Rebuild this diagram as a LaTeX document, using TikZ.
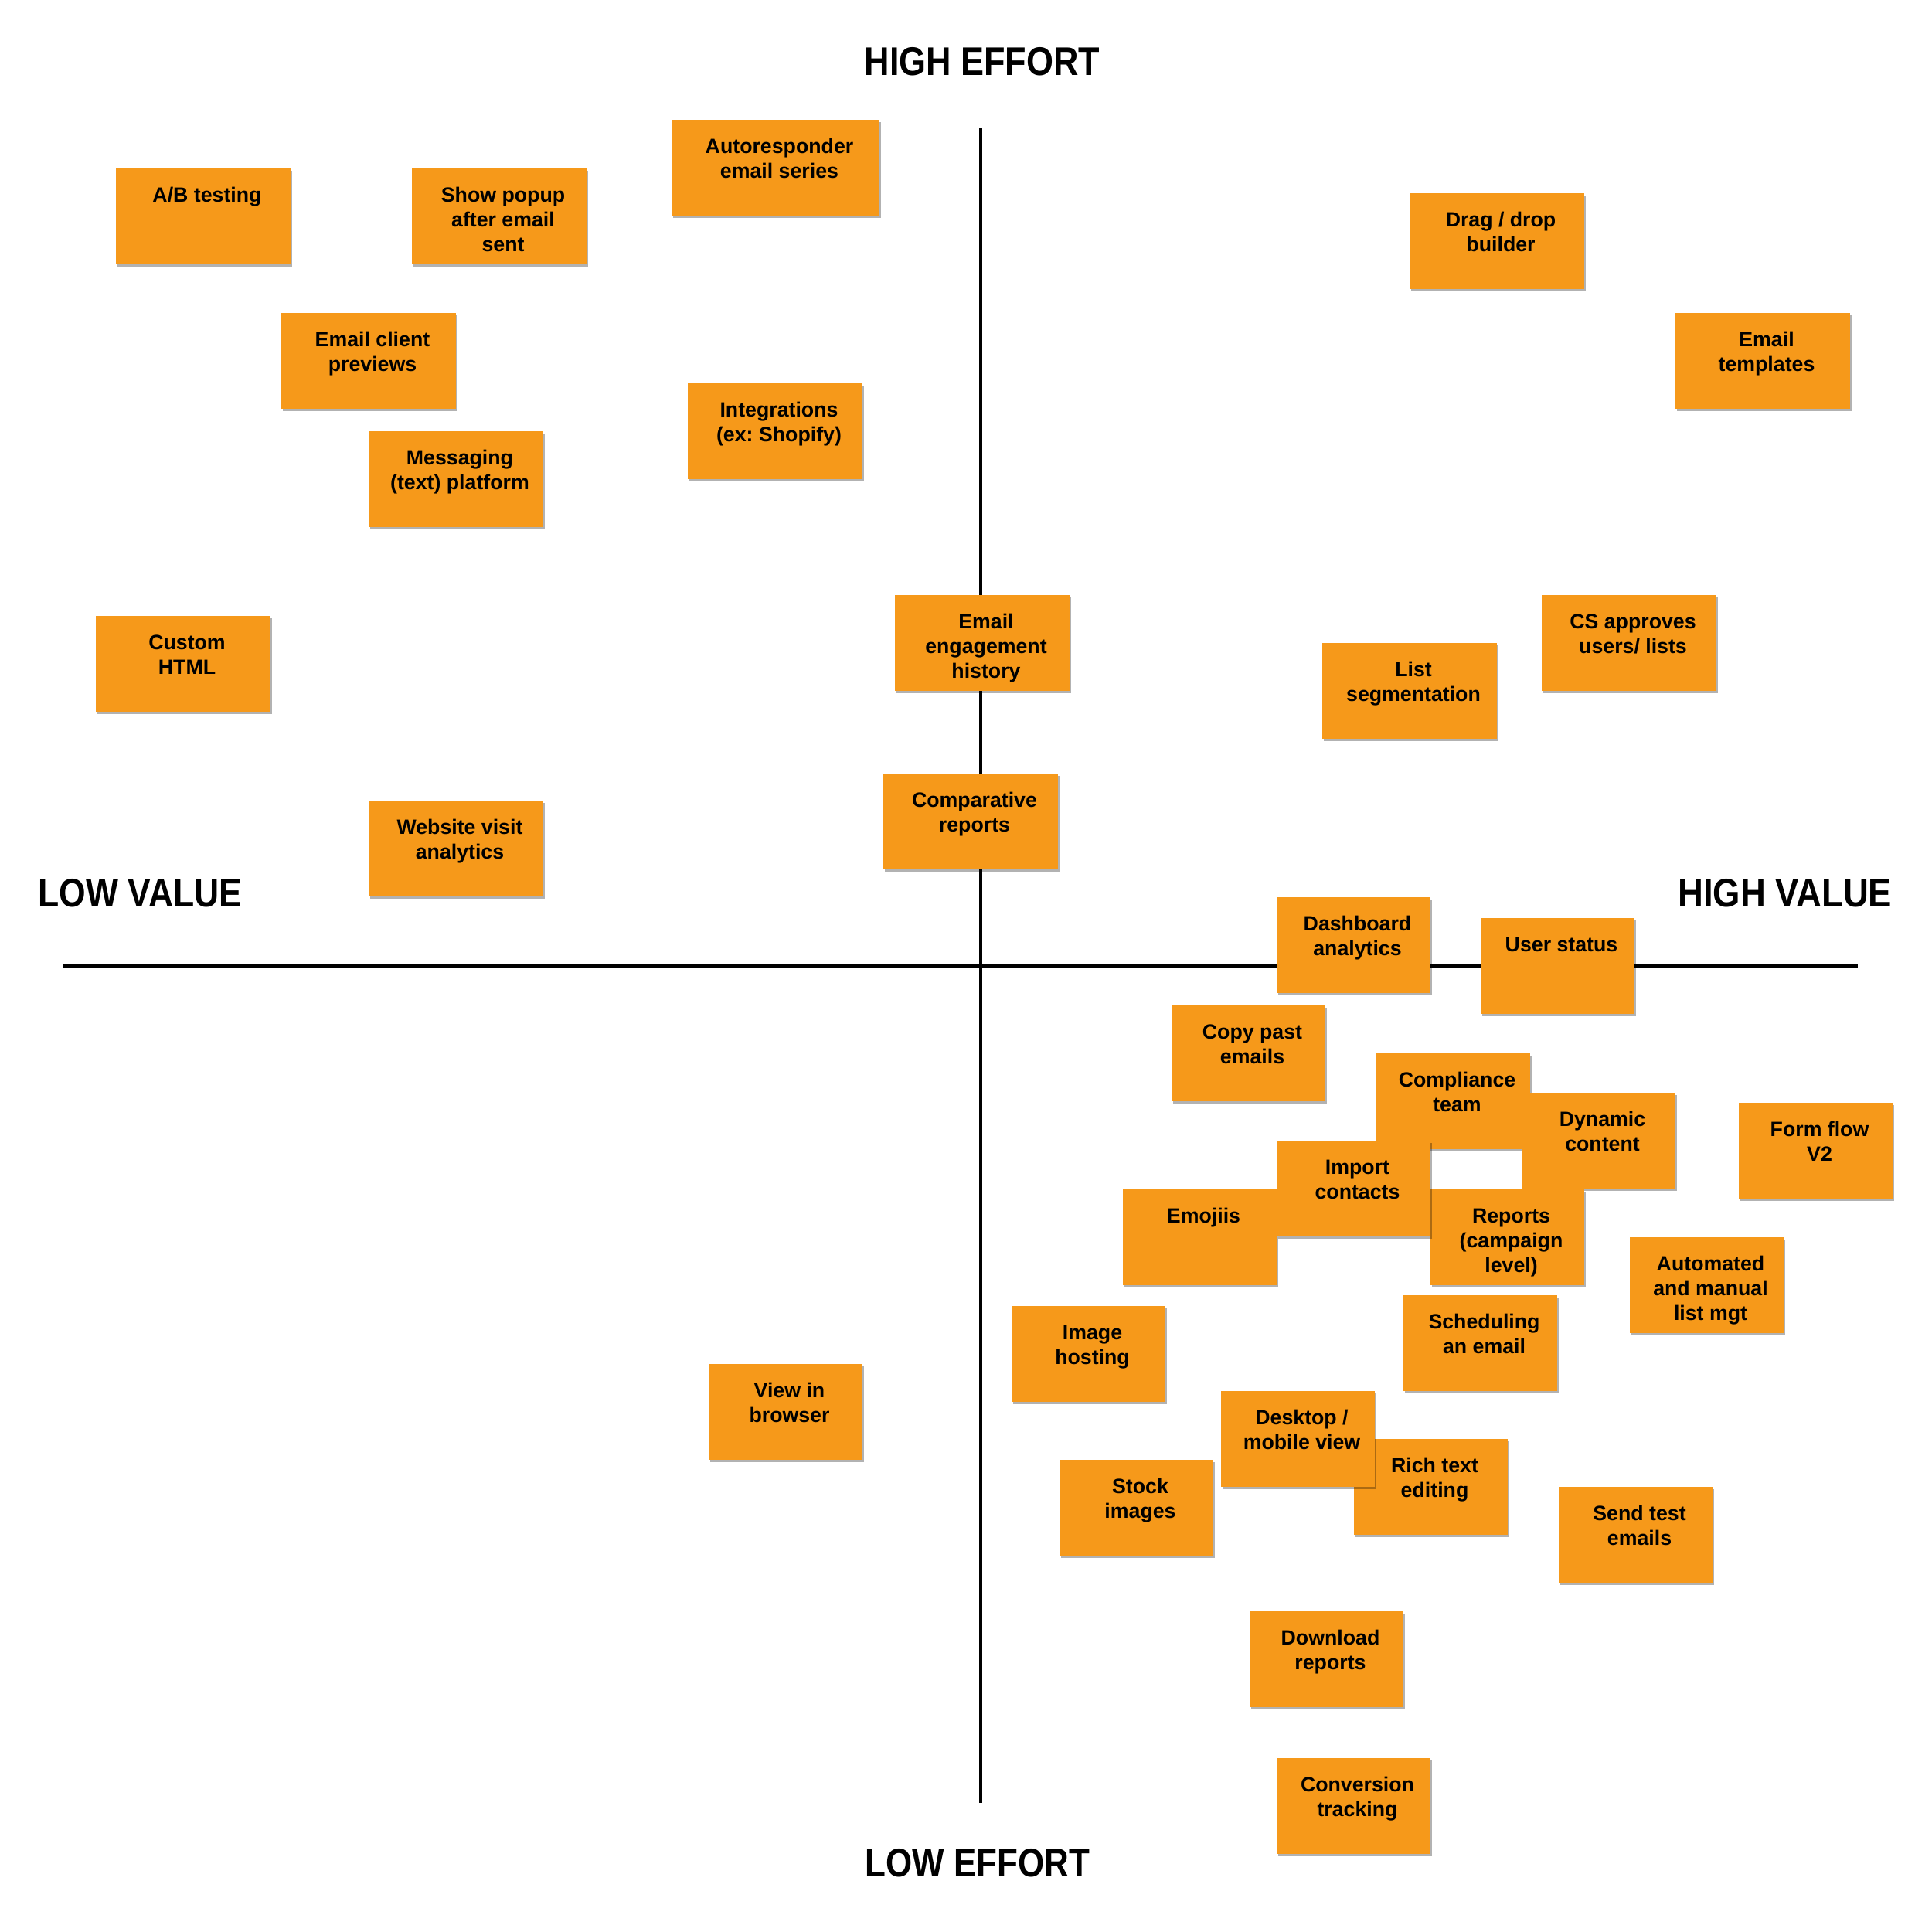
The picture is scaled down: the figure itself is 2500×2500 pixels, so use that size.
\documentclass[tikz,border=0pt]{standalone}
\usepackage{graphicx}
\usepackage{fontspec}
\setmainfont{Liberation Sans}
\usetikzlibrary{shadows}
\frenchspacing
\definecolor{noteorange}{HTML}{F6991A}
\tikzset{
  stickynote/.style={fill=noteorange, inner sep=0pt, outer sep=0pt, anchor=north west,
    drop shadow={shadow xshift=0.5pt, shadow yshift=-0.9pt, opacity=0.3, fill=black}},
  axisline/.style={line width=1.15pt, black},
  axislabel/.style={font=\fontsize{14.7pt}{16pt}\selectfont\bfseries, inner sep=0pt}
}
\newcommand{\stickyat}[5]{%
  \node[stickynote] (#1) at (#2,#3) {\parbox[c][1.24cm][t]{\dimexpr0.01cm*#4\relax}{\centering\leftskip=0.1cm plus 1fil\fontsize{7.6pt}{9.1pt}\selectfont\bfseries\vspace*{0.21cm}\strut #5\par}};}
\begin{document}
\begin{tikzpicture}[x=0.01cm, y=-0.01cm]
\useasboundingbox (0,0) rectangle (2500,2500);
\coordinate (vtop) at (1269,166);
\coordinate (vbot) at (1269,2333);
\coordinate (hleft) at (81,1250);
\coordinate (hright) at (2404,1250);
\draw[axisline] (vtop) -- (vbot);
\draw[axisline] (hleft) -- (hright);
\node[axislabel] (he) at (1271,80) {\scalebox{0.87}[1]{HIGH EFFORT}};
\node[axislabel] (le) at (1265,2411) {\scalebox{0.85}[1]{LOW EFFORT}};
\node[axislabel, anchor=west] (lv) at (49,1156) {\scalebox{0.86}[1]{LOW VALUE}};
\node[axislabel, anchor=east] (hv) at (2449,1156) {\scalebox{0.88}[1]{HIGH VALUE}};
\stickyat{ab}{150}{218}{226}{A/B testing}
\stickyat{popup}{533}{218}{226}{Show popup\\after email\\sent}
\stickyat{auto}{869}{155}{269}{Autoresponder\\email series}
\stickyat{drag}{1824}{250}{226}{Drag / drop\\builder}
\stickyat{templ}{2168}{405}{226}{Email\\templates}
\stickyat{client}{364}{405}{226}{Email client\\previews}
\stickyat{integ}{890}{496}{226}{Integrations\\(ex: Shopify)}
\stickyat{msg}{477}{558}{226}{Messaging\\(text) platform}
\stickyat{html}{124}{797}{226}{Custom\\HTML}
\stickyat{engage}{1158}{770}{226}{Email\\engagement\\history}
\stickyat{cs}{1995}{770}{226}{CS approves\\users/ lists}
\stickyat{listseg}{1711}{832}{226}{List\\segmentation}
\stickyat{compar}{1143}{1001}{226}{Comparative\\reports}
\stickyat{website}{477}{1036}{226}{Website visit\\analytics}
\stickyat{dash}{1652}{1161}{199}{Dashboard\\analytics}
\stickyat{user}{1916}{1188}{199}{User status}
\stickyat{copy}{1516}{1301}{199}{Copy past\\emails}
\stickyat{compl}{1781}{1363}{199}{Compliance\\team}
\stickyat{dyn}{1969}{1414}{199}{Dynamic\\content}
\stickyat{form}{2250}{1427}{199}{Form flow\\V2}
\stickyat{emoji}{1453}{1539}{199}{Emojiis}
\stickyat{reports}{1851}{1539}{199}{Reports\\(campaign\\level)}
\stickyat{import}{1652}{1476}{199}{Import\\contacts}
\stickyat{autom}{2109}{1601}{199}{Automated\\and manual\\list mgt}
\stickyat{sched}{1816}{1676}{199}{Scheduling\\an email}
\stickyat{image}{1309}{1690}{199}{Image\\hosting}
\stickyat{view}{917}{1765}{199}{View in\\browser}
\stickyat{rich}{1752}{1862}{199}{Rich text\\editing}
\stickyat{desk}{1580}{1800}{199}{Desktop /\\mobile view}
\stickyat{stock}{1371}{1889}{199}{Stock\\images}
\stickyat{send}{2017}{1924}{199}{Send test\\emails}
\stickyat{down}{1617}{2085}{199}{Download\\reports}
\stickyat{conv}{1652}{2275}{199}{Conversion\\tracking}
\end{tikzpicture}
\end{document}
